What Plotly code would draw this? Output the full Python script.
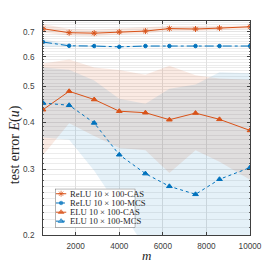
import numpy as np
import plotly.graph_objects as go

# ---------------- data ----------------
m = [500, 1700, 2850, 4000, 5200, 6300, 7500, 8600, 10000]

relu_cas = [0.713, 0.696, 0.694, 0.699, 0.703, 0.714, 0.712, 0.716, 0.722]
relu_cas_hi = [0.734, 0.712, 0.709, 0.714, 0.718, 0.725, 0.725, 0.725, 0.728]
relu_cas_lo = [0.697, 0.684, 0.681, 0.688, 0.693, 0.703, 0.703, 0.706, 0.712]

relu_mcs = [0.657, 0.642, 0.641, 0.638, 0.641, 0.641, 0.641, 0.641, 0.641]
relu_mcs_hi = [0.669, 0.646, 0.644, 0.641, 0.644, 0.644, 0.644, 0.644, 0.644]
relu_mcs_lo = [0.638, 0.639, 0.638, 0.635, 0.638, 0.638, 0.638, 0.638, 0.638]

elu_cas = [0.433, 0.485, 0.461, 0.429, 0.425, 0.407, 0.424, 0.408, 0.381]
elu_cas_hi = [0.576, 0.590, 0.562, 0.553, 0.537, 0.568, 0.535, 0.525, 0.521]
elu_cas_lo = [0.327, 0.398, 0.368, 0.342, 0.337, 0.293, 0.337, 0.314, 0.281]

elu_mcs = [0.451, 0.445, 0.399, 0.328, 0.292, 0.270, 0.257, 0.282, 0.303]
elu_mcs_hi = [0.562, 0.554, 0.518, 0.463, 0.449, 0.493, 0.506, 0.545, 0.542]
elu_mcs_lo = [0.365, 0.360, 0.297, 0.236, 0.185, 0.170, 0.160, 0.165, 0.175]

legend_labels = ["ReLU 10 × 100-CAS", "ReLU 10 × 100-MCS",
                 "ELU 10 × 100-CAS", "ELU 10 × 100-MCS"]

y_ticks = [0.2, 0.3, 0.4, 0.5, 0.6, 0.7]
x_ticks = [2000, 4000, 6000, 8000, 10000]

# ---------------- style ----------------
ORANGE = "#D95319"
BLUE = "#0072BD"
ORANGE_BAND = "rgba(217,83,25,0.12)"
BLUE_BAND = "rgba(0,114,189,0.10)"

fig = go.Figure()


def band(x, lo, hi, color):
    fig.add_trace(go.Scatter(
        x=list(x) + list(x)[::-1], y=list(hi) + list(lo)[::-1],
        fill="toself", fillcolor=color, line=dict(width=0),
        mode="lines", hoverinfo="skip", showlegend=False))


band(m, elu_cas_lo, elu_cas_hi, ORANGE_BAND)
band(m, elu_mcs_lo, elu_mcs_hi, BLUE_BAND)
band(m, relu_cas_lo, relu_cas_hi, ORANGE_BAND)
band(m, relu_mcs_lo, relu_mcs_hi, BLUE_BAND)

series = [
    (relu_cas, ORANGE, "solid", "asterisk-open", 5),
    (relu_mcs, BLUE, "dashdot", "circle", 3.5),
    (elu_cas, ORANGE, "solid", "triangle-up", 5),
    (elu_mcs, BLUE, "dot", "triangle-up", 5),
]
for (vals, col, dash, sym, sz), lab in zip(series, legend_labels):
    fig.add_trace(go.Scatter(
        x=m, y=vals, mode="lines+markers", name=lab,
        line=dict(color=col, width=1, dash=dash),
        marker=dict(symbol=sym, size=sz, color=col,
                    line=dict(color=col, width=1)),
        showlegend=False))

# ---------------- custom compact legend (overlay axes) ----------------
box_x0, box_x1 = 0.058, 0.446
box_y0, box_y1 = 0.035, 0.216
fig.add_trace(go.Scatter(
    x=[0, 1, 1, 0, 0], y=[0, 0, 1, 1, 0], xaxis="x2", yaxis="y2",
    mode="lines", fill="toself", fillcolor="white",
    line=dict(color="#262626", width=0.7), hoverinfo="skip",
    showlegend=False))
entry_y = [0.872, 0.633, 0.395, 0.164]
for (vals, col, dash, sym, sz), lab, ey in zip(series, legend_labels, entry_y):
    fig.add_trace(go.Scatter(
        x=[0.012, 0.076, 0.14], y=[ey, ey, ey], xaxis="x2", yaxis="y2",
        mode="lines+markers",
        line=dict(color=col, width=1, dash=dash),
        marker=dict(symbol=sym, size=[0, sz, 0], color=col,
                    line=dict(color=col, width=1)),
        hoverinfo="skip", showlegend=False))
    fig.add_annotation(x=0.165, y=ey, xref="x2", yref="y2", text=lab,
                       showarrow=False, xanchor="left", yanchor="middle",
                       font=dict(family="Liberation Serif", size=8.7,
                                 color="#262626"))

minor_y = [round(v, 2) for v in np.arange(0.21, 0.75, 0.01)
           if round(v, 2) not in y_ticks]

# page body has an 8px default margin, so the figure is 266x266
fig.update_layout(
    width=266, height=266,
    margin=dict(l=35, r=12, t=12, b=39),
    paper_bgcolor="white", plot_bgcolor="white",
    font=dict(family="Liberation Sans", size=8.2, color="#404040"),
    xaxis=dict(
        range=[500, 10000], tickvals=x_ticks,
        ticktext=[str(v) for v in x_ticks],
        ticks="inside", ticklen=3, tickcolor="#404040",
        showline=True, linecolor="#404040", linewidth=0.8, mirror="ticks",
        showgrid=True, gridcolor="#e0e0e0", gridwidth=0.7,
        zeroline=False, ticklabelstandoff=3, ticklabeloverflow="allow",
    ),
    yaxis=dict(
        type="log", range=[np.log10(0.2), np.log10(0.748)],
        tickvals=y_ticks, ticktext=[str(v) for v in y_ticks],
        ticks="inside", ticklen=3, tickcolor="#404040",
        showline=True, linecolor="#404040", linewidth=0.8, mirror="ticks",
        showgrid=True, gridcolor="#e4e4e4", gridwidth=0.7,
        zeroline=False, ticklabelstandoff=6, ticklabeloverflow="allow",
        minor=dict(tickvals=minor_y, ticks="inside", ticklen=1.5,
                   tickcolor="#606060", showgrid=True,
                   gridcolor="#ececec", gridwidth=0.6),
    ),
    xaxis2=dict(domain=[box_x0, box_x1], range=[0, 1], anchor="y2",
                visible=False, fixedrange=True),
    yaxis2=dict(domain=[box_y0, box_y1], range=[0, 1], anchor="x2",
                visible=False, fixedrange=True),
)

fig.add_annotation(x=-0.135, y=0.42, xref="paper", yref="paper",
                   text="test error <i>E</i>(<i>u</i>)", textangle=-90,
                   showarrow=False, xanchor="center", yanchor="middle",
                   font=dict(family="Liberation Serif", size=14,
                             color="#262626"))
fig.add_annotation(x=0.5, y=-0.095, xref="paper", yref="paper",
                   text="<i>m</i>", showarrow=False,
                   xanchor="center", yanchor="middle",
                   font=dict(family="Liberation Serif", size=13,
                             color="#262626"))

fig.write_html("out.html")
